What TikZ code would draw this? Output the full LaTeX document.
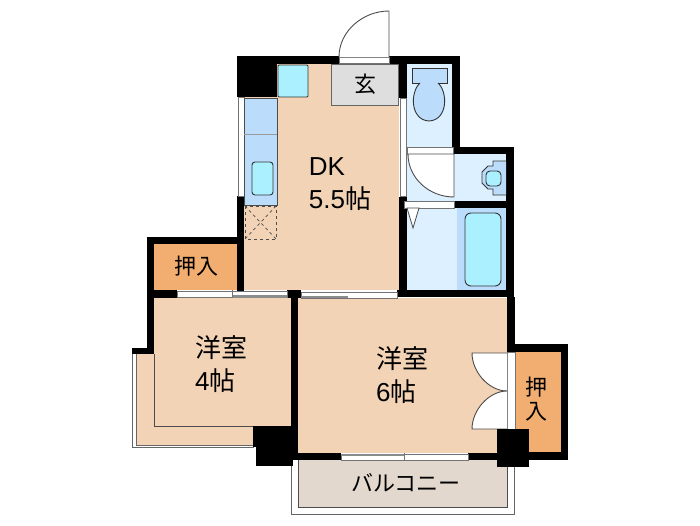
\documentclass[tikz,border=0pt]{standalone}
\usepackage{fontspec}
\setmainfont{Liberation Sans}
\newfontfamily\cjk{Noto Sans CJK JP}
\definecolor{floorpeach}{HTML}{F2D3B5}
\definecolor{closetorange}{HTML}{F2AE70}
\definecolor{wetblue}{HTML}{DDF0FF}
\definecolor{fixtureblue}{HTML}{BBDDFB}
\definecolor{waterblue}{HTML}{ABF0FF}
\definecolor{entrygrey}{HTML}{DEDEDE}
\definecolor{balconygrey}{HTML}{E2D8CE}
\tikzset{
    wall/.style={fill=black},
    slidedoor/.style={fill=white, draw=black!55, line width=0.8pt},
    doorpanel/.style={fill=black!45},
    fixture/.style={draw=black!80, line width=0.9pt},
    leaf/.style={fill=white, draw=black!70, line width=0.9pt},
    label/.style={inner sep=0pt, align=left, font=\fontsize{26}{33}\selectfont},
    labelsmall/.style={inner sep=0pt, font=\fontsize{22}{24}\selectfont\cjk}
}
\begin{document}
\begin{tikzpicture}[x=1pt, y=-1pt]
    \useasboundingbox (0,0) rectangle (700,525);

    % Balconies
    \fill[floorpeach] (136,354) rectangle (256,445);
    \draw[black!60, line width=0.8pt] (132,354) -- (132,447) -- (254,447);
    \draw[black!60, line width=0.8pt] (136,354) -- (136,445) -- (254,445);
    \fill[balconygrey] (298,460) rectangle (507,507);
    \draw[black!60, line width=0.8pt] (291,458) -- (291,514) -- (514,514) -- (514,458);
    \draw[black!70, line width=0.8pt] (298,458) -- (298,507) -- (507,507) -- (507,458);

    % Floors
    \fill[floorpeach] (244,64) rectangle (399,290);
    \fill[floorpeach] (154,298) rectangle (291,426);
    \fill[floorpeach] (298,298) rectangle (507,453);
    \draw[black!70, line width=0.8pt] (154,354) -- (154,426) -- (254,426);
    \fill[closetorange] (154,244) rectangle (238,290);
    \fill[closetorange] (515,352) rectangle (561,452);
    \fill[wetblue] (407,64) rectangle (452,147);
    \fill[wetblue] (407,154) rectangle (506,201);
    \fill[wetblue] (407,208) rectangle (457,290);
    \fill[fixtureblue] (457,208) rectangle (506,290);
    \fill[entrygrey] (331,64) rectangle (398,105);
    \draw[black!60, line width=0.5pt] (331,64) rectangle (398,105);

    % Walls
    \fill[wall] (237,56) rectangle (339,64);
    \fill[wall] (389,56) rectangle (460,64);
    \fill[wall] (237,56) rectangle (277,97);
    \fill[wall] (237,196) rectangle (244,298);
    \fill[wall] (147,237) rectangle (244,244);
    \fill[wall] (147,237) rectangle (154,354);
    \fill[wall] (132,348) rectangle (154,354);
    \fill[wall] (147,290) rectangle (177,298);
    \fill[wall] (287,290) rectangle (301,298);
    \fill[wall] (291,298) rectangle (298,453);
    \fill[wall] (397,290) rectangle (514,297);
    \fill[wall] (399,197) rectangle (407,297);
    \fill[wall] (399,64) rectangle (407,98);
    \fill[wall] (452,56) rectangle (460,154);
    \fill[wall] (452,147) rectangle (514,154);
    \fill[wall] (506,147) rectangle (514,297);
    \fill[wall] (454,201) rectangle (506,208);
    \fill[wall] (507,297) rectangle (515,352);
    \fill[wall] (507,344) rectangle (568,352);
    \fill[wall] (561,344) rectangle (568,460);
    \fill[wall] (497,452) rectangle (568,460);
    \fill[wall] (298,453) rectangle (341,460);
    \fill[wall] (468,453) rectangle (497,460);
    \fill[wall] (253,426) rectangle (291,447);
    \fill[wall] (256,426) rectangle (293,466);
    \fill[wall] (291,440) rectangle (298,460);

    % Sliding doors and windows
    \draw[slidedoor] (177,291) rectangle (287,297);
    \fill[doorpanel] (232,294.5) rectangle (287,297.5);
    \draw[black!55, line width=0.6pt] (232,290) -- (232,298);
    \draw[slidedoor] (301,292) rectangle (397,298);
    \fill[doorpanel] (301,296) rectangle (348,298);
    \draw[slidedoor] (341,454) rectangle (468,460);
    \fill[doorpanel] (341,453.5) rectangle (404,456);
    \draw[black!55, line width=0.6pt] (404,453) -- (404,460);
    \draw[slidedoor] (238,97) rectangle (244,196);
    \draw[slidedoor] (400,98) rectangle (406,196);
    \draw[slidedoor] (339,57) rectangle (389,63);
    \draw[slidedoor] (407,147) rectangle (453,154);
    \draw[slidedoor] (404,201) rectangle (454,208);
    \draw[slidedoor] (507,352) rectangle (515,429);

    % Door leaves
    \draw[leaf] (389,57) -- (389,11) .. controls (363,11) and (339,31) .. (339,57);
    \draw[leaf] (408,154) -- (454,154) -- (454,197) .. controls (429,197) and (408,178) .. (408,154);
    \draw[leaf] (507,353) -- (472,353) .. controls (472,372) and (489,391) .. (507,391);
    \draw[leaf] (507,429) -- (472,429) .. controls (472,410) and (489,391) .. (507,391);
    \draw[fill=white, draw=black!70, line width=0.8pt] (407,208) -- (419,208) -- (413,228) -- cycle;
    \fill[wall] (497,429) rectangle (529,467);

    % Kitchen
    \draw[fill=fixtureblue, draw=black!70, line width=0.5pt] (244,98) rectangle (277,205);
    \draw[black!40, line width=0.5pt] (244,134) -- (277,134);
    \draw[fixture, fill=waterblue, rounded corners=1pt] (278,65) rectangle (308,97);
    \draw[fixture, fill=waterblue, rounded corners=3pt] (252,162) rectangle (273,195);
    \draw[dashed, black!70, line width=0.7pt] (245,206) rectangle (276,239);
    \draw[dashed, black!70, line width=0.7pt] (245,206) -- (276,239);
    \draw[dashed, black!70, line width=0.7pt] (276,206) -- (245,239);

    % Toilet
    \draw[fixture, fill=fixtureblue] (412,68) rectangle (447,83);
    \draw[fixture, fill=fixtureblue] (420,83) .. controls (410,92) and (410,120) .. (429,121) .. controls (448,120) and (448,92) .. (438,83);

    % Washbasin
    \draw[fixture, fill=fixtureblue] (506,161) -- (493,161) -- (493,166) -- (488,166) -- (482,172) -- (482,183) -- (488,189) -- (493,189) -- (493,195) -- (506,195);
    \draw[fixture, fill=waterblue, rounded corners=4pt] (486,171) rectangle (501,186);

    % Bathtub
    \draw[fixture, fill=waterblue, rounded corners=6pt] (465,213) rectangle (501,286);

    % Labels
    \node[labelsmall] (genkan) at (365,84) {玄};
    \node[label] (dk) at (340,184) {DK\\5.5{\cjk 帖}};
    \node[labelsmall] (closetleft) at (196,266) {押入};
    \node[label] (roomleft) at (221,364) {{\cjk 洋室}\\4{\cjk 帖}};
    \node[label] (roomright) at (402,375) {{\cjk 洋室}\\6{\cjk 帖}};
    \node[labelsmall, align=center] (closetright) at (536,399) {押\\入};
    \node[labelsmall] (balcony) at (406,483) {バルコニー};
\end{tikzpicture}
\end{document}
